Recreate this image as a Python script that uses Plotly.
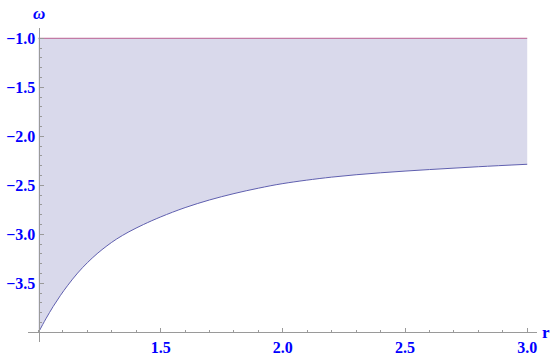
"""
Região entre omega = -1 e a curva inferior omega(r)
"""
import plotly.graph_objects as go

# curva inferior
r_vals = [1.0, 1.03, 1.06, 1.09, 1.12, 1.16, 1.2, 1.24, 1.28, 1.32, 1.37, 1.43,
          1.5, 1.6, 1.7, 1.8, 1.9, 2.0, 2.2, 2.4, 2.6, 2.8, 3.0]
omega_lower = [-4.0, -3.862, -3.736, -3.622, -3.519, -3.395, -3.289, -3.197,
               -3.117, -3.047, -2.974, -2.899, -2.822, -2.727, -2.649, -2.584,
               -2.529, -2.482, -2.416, -2.372, -2.339, -2.310, -2.285]

# limite superior
r_upper = [1.0, 3.0]
omega_upper = [-1.0, -1.0]

x_ticks = [1.5, 2.0, 2.5, 3.0]
y_ticks = [-1.0, -1.5, -2.0, -2.5, -3.0, -3.5]

x_range = [0.957, 3.04]
y_range = [-4.098, -0.895]

label_font = dict(family="Liberation Serif", size=16, color="blue", weight="bold")
axis_gray = "#9a9a9a"

fig = go.Figure()

fig.add_trace(go.Scatter(
    x=r_upper, y=omega_upper, mode="lines",
    line=dict(color="rgb(185,95,145)", width=1),
    showlegend=False, hoverinfo="skip"
))

fig.add_trace(go.Scatter(
    x=r_vals, y=omega_lower, mode="lines",
    line=dict(color="rgb(95,95,175)", width=1, shape="spline", smoothing=1),
    fill="tonexty", fillcolor="rgb(217,217,235)",
    showlegend=False, hoverinfo="skip"
))

# eixos cruzando em (1, -4), como no Mathematica
x_pos = (1.0 - x_range[0]) / (x_range[1] - x_range[0])
y_pos = (-4.0 - y_range[0]) / (y_range[1] - y_range[0])

fig.update_layout(
    width=554, height=356,
    margin=dict(l=28, r=17, t=28, b=14),
    paper_bgcolor="white", plot_bgcolor="white",
    xaxis=dict(
        range=x_range, anchor="free", position=y_pos,
        showgrid=False, zeroline=False,
        showline=True, linecolor=axis_gray, linewidth=1,
        tickmode="array", tickvals=x_ticks, tickformat=".1f",
        ticks="inside", ticklen=4, tickcolor=axis_gray,
        minor=dict(tickmode="linear", tick0=1.0, dtick=0.1, ticks="inside",
                   ticklen=2.5, tickcolor=axis_gray),
        tickfont=label_font, automargin=False,
    ),
    yaxis=dict(
        range=y_range, anchor="free", position=x_pos,
        showgrid=False, zeroline=False,
        showline=True, linecolor=axis_gray, linewidth=1,
        tickmode="array", tickvals=y_ticks, tickformat=".1f",
        ticks="inside", ticklen=4, tickcolor=axis_gray,
        minor=dict(tickmode="linear", tick0=-1.0, dtick=0.1, ticks="inside",
                   ticklen=2.5, tickcolor=axis_gray),
        tickfont=label_font, automargin=False,
    ),
    annotations=[
        dict(text="ω", xref="paper", yref="paper", x=x_pos, y=1.0,
             xanchor="center", yanchor="bottom", yshift=3, showarrow=False,
             font=dict(family="Liberation Serif", size=17, color="blue",
                       weight="bold", style="italic")),
        dict(text="r", xref="paper", yref="paper", x=1.0, y=y_pos,
             xanchor="left", yanchor="middle", xshift=3, showarrow=False,
             font=dict(family="Liberation Serif", size=17, color="blue",
                       weight="bold")),
    ],
)

# a página tem margem padrão de 8px no body; zera para alinhar com a janela
fig.write_html("out.html", config={"displayModeBar": False},
               post_script="document.body.style.margin='0';")
